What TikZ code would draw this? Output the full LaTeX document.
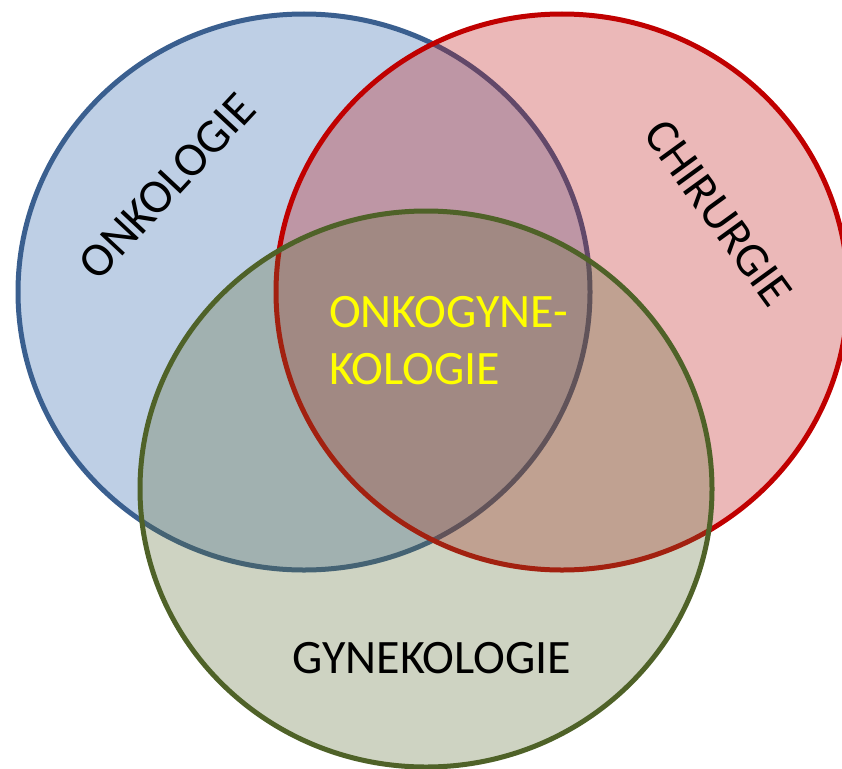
\documentclass[tikz,border=0pt]{standalone}
\usepackage{fontspec}
\setmainfont{Carlito}
\definecolor{bstroke}{RGB}{58,95,143}
\definecolor{bfill}{RGB}{40,98,172}
\definecolor{rstroke}{RGB}{192,0,0}
\definecolor{rfill}{RGB}{192,20,20}
\definecolor{gstroke}{RGB}{79,98,40}
\definecolor{gfill}{RGB}{95,110,55}
\definecolor{ylw}{RGB}{255,255,0}
\tikzset{
  setcirc/.style={line width=5pt, fill opacity=0.3, draw opacity=1},
  lbl/.style={inner sep=0pt, font=\fontsize{48}{57}\selectfont, text=black},
  midlbl/.style={inner sep=0pt, font=\fontsize{48}{57}\selectfont, text=ylw, anchor=base west}
}
\begin{document}
\begin{tikzpicture}[x=1pt,y=-1pt]
\useasboundingbox (0,0) rectangle (842,768);
\clip (0,0) rectangle (842,768);
\fill[white] (0,0) rectangle (842,768);
\draw[setcirc, draw=bstroke, fill=bfill] (304,292) ellipse [x radius=286pt, y radius=278pt];
\draw[setcirc, draw=rstroke, fill=rfill] (562,292) ellipse [x radius=286pt, y radius=278pt];
\draw[setcirc, draw=gstroke, fill=gfill] (426,489) ellipse [x radius=286pt, y radius=278pt];
\node[lbl, rotate=47] (onk) at (167,186) {ONKOLOGIE};
\node[lbl, rotate=-54] (chi) at (718,213) {CHIRURGIE};
\node[lbl] (gyn) at (432,658) {GYNEKOLOGIE};
\node[midlbl] (mid1) at (329,327) {ONKOGYNE-};
\node[midlbl] (mid2) at (329,384) {KOLOGIE};
\end{tikzpicture}
\end{document}
